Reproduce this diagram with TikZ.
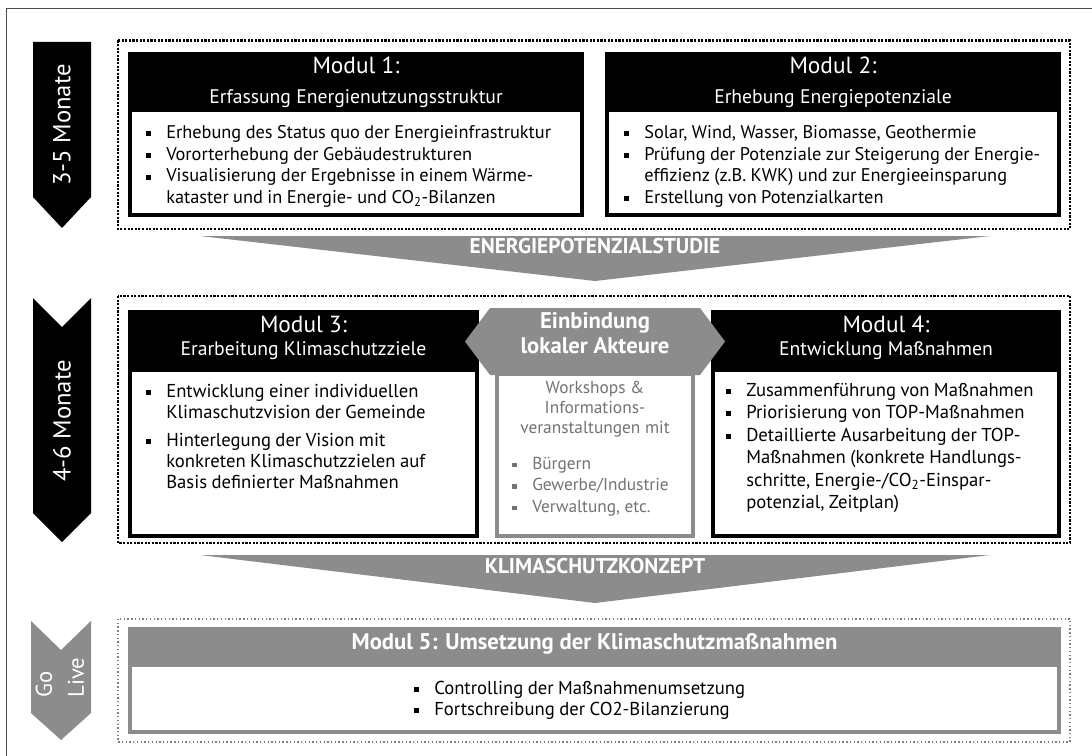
\documentclass[tikz,border=0pt]{standalone}
\usepackage{fontspec}
\setmainfont{PT Sans}

\definecolor{chev}{gray}{0.55}
\definecolor{softtxt}{gray}{0.45}
\definecolor{framegray}{gray}{0.3}
\definecolor{lightdots}{gray}{0.5}

% square bullet with hanging indent; \\ breaks a line inside the item
\newlength{\bulind}
\setlength{\bulind}{15pt}
\newcommand{\sqbul}{\rule[0.12em]{0.27em}{0.27em}}
\newcommand{\bitem}[1]{{\hangindent=\bulind\hangafter=1\noindent\makebox[\bulind][l]{\sqbul}\let\\\newline#1\par}}

\begin{document}
\begin{tikzpicture}[x=0.75pt,y=-0.75pt,
  frameline/.style={draw=framegray,line width=1.1pt},
  dotframe/.style={draw=black,line width=1.6pt,dash pattern=on 1.6pt off 1.1pt},
  lightframe/.style={draw=lightdots,line width=1pt,dash pattern=on 1pt off 1.8pt},
  armtxt/.style={text=white,font=\fontsize{18.5}{24}\selectfont,inner sep=0pt},
  modtitle/.style={anchor=mid,text=white,font=\fontsize{17.5}{20}\selectfont,inner sep=0pt},
  modsub/.style={anchor=mid,text=white,font=\fontsize{14.75}{17}\selectfont,inner sep=0pt},
  bodytxt/.style={anchor=base west,inner sep=0pt},
  chevtxt/.style={anchor=mid,text=white,font=\bfseries\fontsize{16}{19}\selectfont,inner sep=0pt},
  hextxt/.style={anchor=mid,text=white,font=\bfseries\fontsize{17}{19}\selectfont,inner sep=0pt},
  softline/.style={anchor=mid,text=softtxt,font=\fontsize{13}{16}\selectfont,inner sep=0pt}
]
\useasboundingbox (0,0) rectangle (1092,756);
\fill[white] (0,0) rectangle (1092,756);
\draw[frameline] (6.5,756) -- (6.5,8.5) -- (1092,8.5);

% ---- phase markers on the left ----
\fill[black] (33,42) -- (91,42) -- (91,197) -- (62,228) -- (33,197) -- cycle;
\node[armtxt,rotate=90] (t1) at (62,125) {3-5 Monate};
\fill[black] (33,298) -- (62,327) -- (91,298) -- (91,513) -- (62,542) -- (33,513) -- cycle;
\node[armtxt,rotate=90] (t2) at (62,421) {4-6 Monate};
\fill[chev] (31,621) -- (61,650) -- (91,621) -- (91,713) -- (61,740) -- (31,713) -- cycle;
\node[armtxt,rotate=90,align=left,font=\fontsize{17}{24}\selectfont] (t3) at (60,677.5) {Go\\Live};

% ---- phase 1: Modul 1 and Modul 2 ----
\draw[dotframe] (118,40.5) rectangle (1070,229);

\fill[black] (128,52) rectangle (584,216.5);
\fill[white] (132,112) rectangle (580,212.5);
\node[modtitle] (m1t) at (356,70.5) {Modul 1:};
\node[modsub] (m1s) at (356,100) {Erfassung Energienutzungsstruktur};
\node[bodytxt,text width=340pt] (m1b) at (146,138.3) {\fontsize{13.75}{16.3}\selectfont\raggedright
  \bitem{Erhebung des Status quo der Energieinfrastruktur}
  \bitem{Vororterhebung der Gebäudestrukturen}
  \bitem{Visualisierung der Ergebnisse in einem Wärme-\\kataster und in Energie- und CO\textsubscript{2}-Bilanzen}};

\fill[black] (605,52) rectangle (1061,216.5);
\fill[white] (609,112) rectangle (1057,212.5);
\node[modtitle] (m2t) at (833,70.5) {Modul 2:};
\node[modsub] (m2s) at (833,100) {Erhebung Energiepotenziale};
\node[bodytxt,text width=340pt] (m2b) at (624,138.3) {\fontsize{13.75}{16.3}\selectfont\raggedright
  \bitem{Solar, Wind, Wasser, Biomasse, Geothermie}
  \bitem{Prüfung der Potenziale zur Steigerung der Energie-\\effizienz (z.B. KWK) und zur Energieeinsparung}
  \bitem{Erstellung von Potenzialkarten}};

% ---- result of phase 1 ----
\fill[chev] (200,236) -- (990,236) -- (595,281) -- cycle;
\node[chevtxt] (c1) at (595,250) {ENERGIEPOTENZIALSTUDIE};

% ---- phase 2: Modul 3, stakeholders, Modul 4 ----
\draw[dotframe] (118,296) rectangle (1070,543);

\fill[black] (128,310) rectangle (479,538);
\fill[white] (132,372) rectangle (475,534);
\node[modtitle] (m3t) at (303.5,329) {Modul 3:};
\node[modsub] (m3s) at (303.5,352) {Erarbeitung Klimaschutzziele};
\node[bodytxt,text width=262pt] (m3b) at (146,397.5) {\setlength{\parskip}{4.9pt}\fontsize{14}{15.75}\selectfont\raggedright
  \bitem{Entwicklung einer individuellen\\Klimaschutzvision der Gemeinde}
  \bitem{Hinterlegung der Vision mit\\konkreten Klimaschutzzielen auf\\Basis definierter Maßnahmen}};

\fill[black] (711,310) rectangle (1061,538);
\fill[white] (715,372) rectangle (1057,534);
\node[modtitle] (m4t) at (886,329) {Modul 4:};
\node[modsub] (m4s) at (886,352) {Entwicklung Maßnahmen};
\node[bodytxt,text width=262pt] (m4b) at (726,396) {\fontsize{14}{16.9}\selectfont\raggedright
  \bitem{Zusammenführung von Maßnahmen}
  \bitem{Priorisierung von TOP-Maßnahmen}
  \bitem{Detaillierte Ausarbeitung der TOP-\\Maßnahmen (konkrete Handlungs-\\schritte, Energie-/CO\textsubscript{2}-Einspar-\\potenzial, Zeitplan)}};

% stakeholder involvement between Modul 3 and Modul 4
\fill[chev] (495,372) rectangle (695,538);
\fill[white] (499,376) rectangle (691,534);
\fill[chev] (465,341.5) -- (490,308) -- (700,308) -- (725,341.5) -- (700,375) -- (490,375) -- cycle;
\node[hextxt] (hx1) at (595,325) {Einbindung};
\node[hextxt] (hx2) at (595,350) {lokaler Akteure};
\node[softline] (ws1) at (595,390) {Workshops \&};
\node[softline] (ws2) at (595,410) {Informations-};
\node[softline] (ws3) at (595,430) {veranstaltungen mit};
\node[bodytxt,text=softtxt,text width=140pt] (wl) at (512,469.5) {\fontsize{13}{16.1}\selectfont\raggedright
  \bitem{Bürgern}
  \bitem{Gewerbe/Industrie}
  \bitem{Verwaltung, etc.}};

% ---- result of phase 2 ----
\fill[chev] (200,555) -- (990,555) -- (595,603) -- cycle;
\node[chevtxt] (c2) at (595,570) {KLIMASCHUTZKONZEPT};

% ---- go live: Modul 5 ----
\draw[lightframe] (118,619) rectangle (1070,742);
\fill[chev] (128,627) rectangle (1061,734);
\fill[white] (132,667) rectangle (1057,730);
\node[chevtxt,font=\bfseries\fontsize{17}{19}\selectfont] (m5t) at (594.5,646) {Modul 5: Umsetzung der Klimaschutzmaßnahmen};
\node[bodytxt,text width=420pt] (m5b) at (414,694.4) {\fontsize{14}{15.75}\selectfont\raggedright
  \bitem{Controlling der Maßnahmenumsetzung}
  \bitem{Fortschreibung der CO2-Bilanzierung}};
\end{tikzpicture}
\end{document}
